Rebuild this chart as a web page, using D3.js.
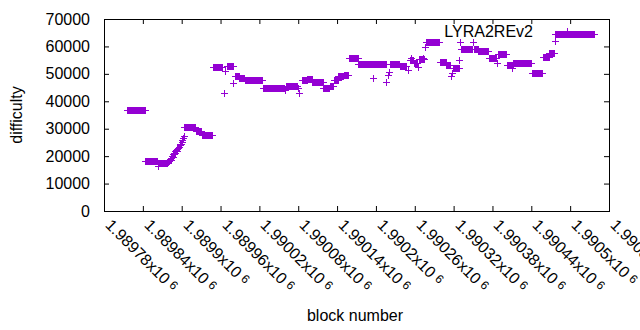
<!DOCTYPE html>
<html><head><meta charset="utf-8">
<script src="https://cdn.jsdelivr.net/npm/d3@7"></script>
<style>
body{margin:0;background:#fff}
svg{display:block}
text{font-family:"Liberation Sans",Arial,sans-serif;font-size:16px;fill:#000}
</style>
</head><body>
<svg id="c" width="640" height="330"></svg>
<script>
// ---- data ----
const seriesName = "LYRA2REv2";
// runs of consecutive blocks at a constant difficulty
const runStart = [1989816,1989844,1989863,1989904,1989922,1989931,1989948,1989970,1989982,1989989,1989998,1990026,1990061,1990086,1990094,1990102,1990119,1990129,1990135,1990142,1990150,1990159,1990173,1990221,1990237,1990252,1990259,1990266,1990277,1990299,1990309,1990319,1990331,1990351,1990358,1990374,1990388,1990402,1990412,1990441,1990458,1990468,1990477];
const runEnd   = [1989843,1989862,1989878,1989921,1989930,1989947,1989963,1989979,1989988,1989997,1990024,1990058,1990078,1990093,1990101,1990118,1990128,1990134,1990141,1990149,1990157,1990172,1990215,1990236,1990247,1990258,1990264,1990275,1990298,1990308,1990314,1990328,1990349,1990357,1990373,1990386,1990401,1990411,1990440,1990456,1990467,1990475,1990537];
const runValue = [36700,18300,17500,30500,29300,27700,52400,52800,49300,48400,47600,45000,45500,47600,48200,47000,44700,45500,47800,49200,49600,55700,53500,53500,53000,55000,54000,55300,61500,54200,53100,52300,59000,59000,58200,55900,57100,53300,53800,50400,56300,57500,64400];
// rising section, one value per block starting at risingStart
const risingStart = 1989879;
const risingValue = [17800,18100,18300,18900,18700,19500,20000,19800,20600,21200,21000,21700,22200,22000,22600,23000,22800,23500,24000,24600,24300,25200,25800,26500,27300];
// isolated points
const singleBlock = [1989864,1989965,1989967,1989980,1990059,1990080,1990081,1990195,1990216,1990219,1990220,1990250,1990254,1990265,1990273,1990276,1990316,1990317,1990329,1990330,1990350,1990387,1990410,1990476];
const singleValue = [16400,43000,51000,46500,44100,44700,42900,48400,46900,49600,50800,51400,55700,52600,55700,59900,49300,50400,55000,61500,61500,53800,52000,62100];
// axes
const xTickValues = [1989780,1989840,1989900,1989960,1990020,1990080,1990140,1990200,1990260,1990320,1990380,1990440,1990500,1990560];
const xTickLabels = ["1.98978","1.98984","1.9899","1.98996","1.99002","1.99008","1.99014","1.9902","1.99026","1.99032","1.99038","1.99044","1.9905","1.99056"];
const yTickValues = [0,10000,20000,30000,40000,50000,60000,70000];
const yTickLabels = ["0","10000","20000","30000","40000","50000","60000","70000"];

// ---- build point table ----
const points = [];
runStart.forEach((s, i) => { for (let b = s; b <= runEnd[i]; b++) points.push([b, runValue[i]]); });
risingValue.forEach((v, i) => points.push([risingStart + i, v]));
singleBlock.forEach((b, i) => points.push([b, singleValue[i]]));

// ---- drawing ----
const color = "#9400d3";
const svg = d3.select("#c");
const L = 104, R = 609, T = 19, B = 211;
const x = d3.scaleLinear().domain([1989780, 1990560]).range([L, R]);
const y = d3.scaleLinear().domain([0, 70000]).range([B, T]);

function plus(px, py) {
  const cx = Math.round(px), cy = Math.round(py);
  return `M${cx-3},${cy+0.5}H${cx+4}M${cx+0.5},${cy-3}V${cy+4}`;
}

// axes with inward ticks
const gB = svg.append("g").attr("transform", `translate(0,${B})`)
  .call(d3.axisBottom(x).tickValues(xTickValues).tickSizeInner(-5).tickSizeOuter(0).tickFormat(""));
const gT = svg.append("g").attr("transform", `translate(0,${T})`)
  .call(d3.axisTop(x).tickValues(xTickValues).tickSizeInner(-5).tickSizeOuter(0).tickFormat(""));
const gL = svg.append("g").attr("transform", `translate(${L},0)`)
  .call(d3.axisLeft(y).tickValues(yTickValues).tickSizeInner(-5).tickSizeOuter(0).tickPadding(14)
    .tickFormat((d, i) => yTickLabels[i]));
const gR = svg.append("g").attr("transform", `translate(${R},0)`)
  .call(d3.axisRight(y).tickValues(yTickValues).tickSizeInner(-5).tickSizeOuter(0).tickFormat(""));
[gB, gT, gL, gR].forEach(g => {
  g.select(".domain").remove();
  g.attr("font-family", null).attr("font-size", null);
  g.selectAll(".tick line").attr("stroke", "#000");
  g.selectAll(".tick text").attr("fill", "#000");
});

// border box
svg.append("rect").attr("x", L + 0.5).attr("y", T + 0.5)
  .attr("width", R - L).attr("height", B - T)
  .attr("fill", "none").attr("stroke", "#000").attr("stroke-width", 1);

// rotated x tick labels
const xl = svg.append("g");
xTickValues.forEach((v, i) => {
  const t = xl.append("text")
    .attr("transform", `translate(${Math.round(x(v)) + 0.5},226) rotate(45)`)
    .attr("text-anchor", "start");
  t.append("tspan").text(xTickLabels[i] + "x10");
  t.append("tspan").attr("dx", 4).attr("dy", -3).style("font-size", "12px").text("6");
});

// axis titles
svg.append("text").attr("x", 355).attr("y", 321).attr("text-anchor", "middle").text("block number");
svg.append("text").attr("transform", "translate(22,115) rotate(-90)").attr("text-anchor", "middle").text("difficulty");

// points
svg.append("path")
  .attr("d", points.map(p => plus(x(p[0]), y(p[1]))).join(""))
  .attr("fill", "none").attr("stroke", color).attr("stroke-width", 1);

// key
svg.append("text").attr("x", 533).attr("y", 37).attr("text-anchor", "end").text(seriesName);
svg.append("path").attr("d", plus(567, 31)).attr("fill", "none").attr("stroke", color).attr("stroke-width", 1);
</script>
</body></html>
